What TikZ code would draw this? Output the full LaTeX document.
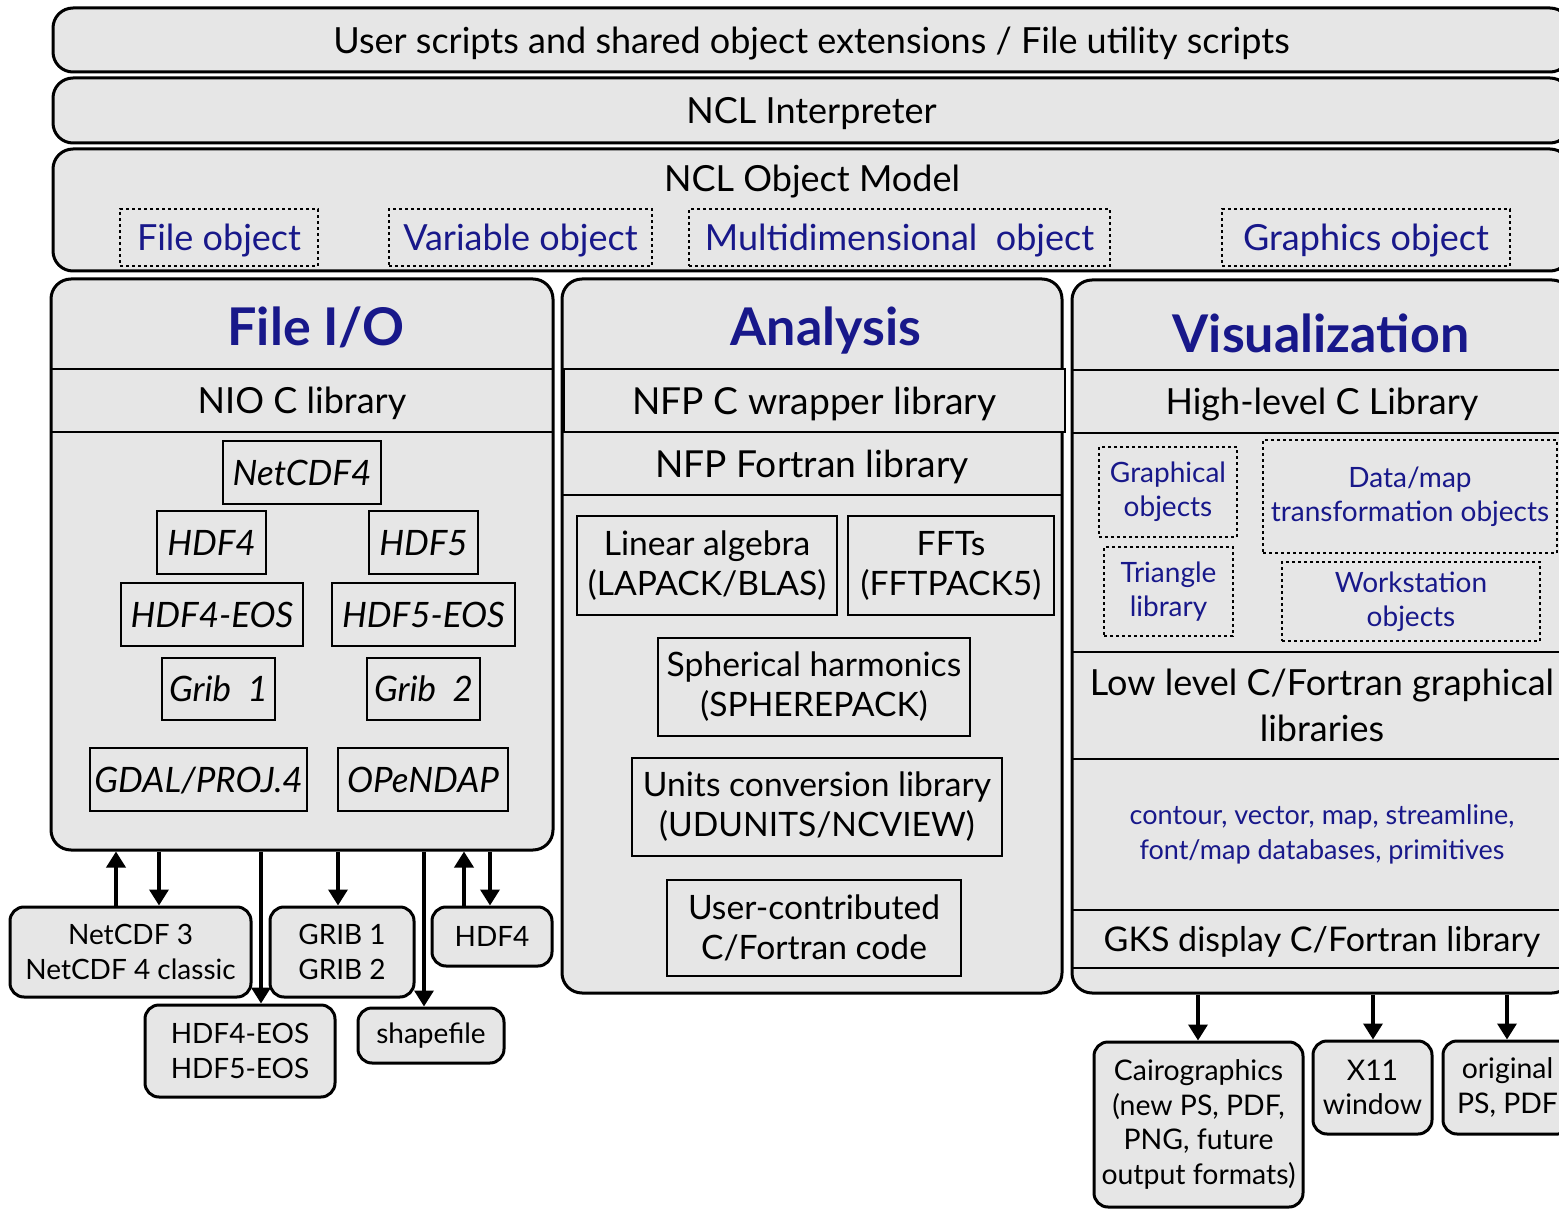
\documentclass[tikz,border=0pt]{standalone}
\usepackage{fontspec}
\setmainfont{Lato}
\usetikzlibrary{arrows.meta,positioning}
\definecolor{boxgray}{RGB}{230,230,230}
\definecolor{navy}{RGB}{24,24,138}
\newcommand{\fsize}[2]{\fontsize{#1}{#2}\selectfont}

\begin{document}
\begin{tikzpicture}[x=0.5pt, y=-0.5pt,
        sz/.style 2 args={minimum width=#1*0.5pt, minimum height=#2*0.5pt},
        bar/.style={draw, line width=1.5pt, fill=boxgray, rounded corners=10pt, inner sep=0pt, text depth=0pt, font=\fsize{18}{22}},
        panel/.style={draw, line width=1.5pt, fill=boxgray, rounded corners=10pt, inner sep=0pt},
        row/.style={draw, line width=0.8pt, inner sep=0pt, align=center, font=\fsize{18}{23}},
        lib/.style={draw, line width=0.8pt, inner sep=0pt, text depth=0pt, font=\fsize{17.5}{21}\itshape},
        pack/.style={draw, line width=0.8pt, inner sep=0pt, align=center, font=\fsize{16.8}{20}},
        obj/.style={draw, line width=1.2pt, dash pattern=on 1.5pt off 1.5pt, inner sep=0pt, align=center, text=navy},
        fmt/.style={draw, line width=1.5pt, fill=boxgray, rounded corners=7pt, inner sep=0pt, align=center, font=\fsize{14}{17.5}},
        arr/.style={-{Triangle[length=8pt,width=9.5pt]}, line width=1.8pt},
        title/.style={text=navy, font=\fsize{26}{32}\bfseries}]
        \useasboundingbox (0,0) rectangle (1559,1209);

        % layers on top
        \node (user) [bar, sz={1517}{64}] at (811.5,40) {User scripts and shared object extensions / File utility scripts};
        \node (interp) [bar, sz={1517}{65}] at (811.5,110.5) {NCL Interpreter};
        \node (model) [bar, sz={1517}{122}] at (811.5,210) {};
        \node (modeltxt) [font=\fsize{18}{22}] at (812,182) {NCL Object Model};
        \node (fileobj) [obj, text depth=0pt, font=\fsize{18}{22}, sz={198}{57}] at (219,237.5) {File object};
        \node (varobj) [obj, text depth=0pt, font=\fsize{18}{22}, sz={263}{57}] at (520.5,237.5) {Variable object};
        \node (mdobj) [obj, text depth=0pt, font=\fsize{18}{22}, sz={421}{57}] at (899.5,237.5) {Multidimensional~~object};
        \node (gobj) [obj, text depth=0pt, font=\fsize{18}{22}, sz={288}{57}] at (1366,237.5) {Graphics object};

        % File I/O
        \node (fileio) [panel, sz={502}{571}] at (302,564.5) {};
        \node (fiotitle) [title] at (316,327) {File I/O};
        \node (nio) [row, text depth=0pt, sz={502}{63}] at (302,400.5) {NIO C library};
        \node (netcdf4) [lib, sz={158}{63}] at (302,472.5) {NetCDF4};
        \node (hdf4) [lib, sz={109}{63}] at (211.5,542.5) {HDF4};
        \node (hdf5) [lib, sz={109}{63}] at (423.5,542.5) {HDF5};
        \node (hdf4eos) [lib, sz={182}{63}] at (212,614.5) {HDF4-EOS};
        \node (hdf5eos) [lib, sz={183}{63}] at (423.5,614.5) {HDF5-EOS};
        \node (grib1) [lib, sz={113}{62}] at (218.5,689) {Grib~~1};
        \node (grib2) [lib, sz={113}{62}] at (423.5,689) {Grib~~2};
        \node (gdal) [lib, sz={217}{63}] at (198.5,779.5) {GDAL/PROJ.4};
        \node (opendap) [lib, sz={170}{63}] at (423,779.5) {OPeNDAP};

        % Analysis
        \node (analysis) [panel, sz={500}{714}] at (812,636) {};
        \node (antitle) [title] at (826,331) {Analysis};
        \node (nfpc) [row, fill=boxgray, text depth=0pt, font=\fsize{18.6}{23}, sz={501}{63}] at (814.5,400.5) {NFP C wrapper library};
        \node (nfpf) [row, text depth=0pt, font=\fsize{18.6}{23}, sz={500}{63}] at (812,463.5) {NFP Fortran library};
        \node (lapack) [pack, sz={260}{99}] at (707,565.5) {Linear algebra\\(LAPACK/BLAS)};
        \node (fft) [pack, sz={206}{99}] at (951,565.5) {FFTs\\(FFTPACK5)};
        \node (sphere) [pack, sz={312}{98}] at (814,687) {Spherical harmonics\\(SPHEREPACK)};
        \node (units) [pack, sz={370}{98}] at (817,807) {Units conversion library\\(UDUNITS/NCVIEW)};
        \node (usercode) [pack, sz={294}{96}] at (814,928) {User-contributed\\C/Fortran code};

        % Visualization
        \node (vis) [panel, sz={500}{713}] at (1322,636.5) {};
        \node (vistitle) [title] at (1321,333) {Visualization};
        \node (hlc) [row, text depth=0pt, sz={500}{63}] at (1322,401.5) {High-level C Library};
        \node (grobj) [obj, font=\fsize{14}{17}, sz={138}{90}] at (1168,492) {Graphical\\objects};
        \node (trobj) [obj, font=\fsize{14}{17}, sz={294}{113}] at (1410,496.5) {Data/map\\transformation objects};
        \node (trilib) [obj, font=\fsize{14}{17}, sz={129}{89}] at (1168.5,591.5) {Triangle\\library};
        \node (wsobj) [obj, font=\fsize{14}{17}, sz={258}{79}] at (1411,601.5) {Workstation\\objects};
        \node (llc) [row, sz={500}{107}] at (1322,705.5) {Low level C/Fortran graphical\\libraries};
        \node (prims) [row, text=navy, font=\fsize{13.5}{17.5}, sz={500}{151}] at (1322,834.5) {contour, vector, map, streamline,\\font/map databases, primitives};
        \node (gks) [row, text depth=0pt, font=\fsize{17}{22}, sz={500}{58}] at (1322,939) {GKS display C/Fortran library};

        % file formats
        \node (nc3) [fmt, sz={241}{90}] at (130.5,952) {NetCDF 3\\NetCDF 4 classic};
        \node (grib) [fmt, sz={144}{90}] at (342,952) {GRIB 1\\GRIB 2};
        \node (hdf4f) [fmt, sz={120}{59}] at (492,936.5) {HDF4};
        \node (eosf) [fmt, sz={190}{92}] at (240,1051) {HDF4-EOS\\HDF5-EOS};
        \node (shp) [fmt, sz={146}{55}] at (431,1035.5) {shapefile};

        % output devices
        \node (cairo) [fmt, font=\fsize{14.2}{17.3}, sz={209}{165}] at (1198.5,1124.5) {Cairographics\\(new PS, PDF,\\PNG, future\\output formats)};
        \node (x11) [fmt, font=\fsize{14.2}{17.3}, sz={119}{93}] at (1372.5,1087.5) {X11\\window};
        \node (ps) [fmt, font=\fsize{14.2}{17.3}, sz={129}{93}] at (1507.5,1087.5) {original\\PS, PDF};

        % arrows
        \coordinate (a1) at (116,0);
        \coordinate (a2) at (159,0);
        \coordinate (a3) at (261,0);
        \coordinate (a4) at (338,0);
        \coordinate (a5) at (424,0);
        \coordinate (a6) at (464,0);
        \coordinate (a7) at (490,0);
        \draw[arr] (nc3.north -| a1) -- (fileio.south -| a1);
        \draw[arr] (fileio.south -| a2) -- (nc3.north -| a2);
        \draw[arr] (fileio.south -| a3) -- (eosf.north -| a3);
        \draw[arr] (fileio.south -| a4) -- (grib.north -| a4);
        \draw[arr] (fileio.south -| a5) -- (shp.north -| a5);
        \draw[arr] (hdf4f.north -| a6) -- (fileio.south -| a6);
        \draw[arr] (fileio.south -| a7) -- (hdf4f.north -| a7);

        \coordinate (b1) at (1198,0);
        \coordinate (b2) at (1373,0);
        \coordinate (b3) at (1507,0);
        \draw[arr] (vis.south -| b1) -- (cairo.north -| b1);
        \draw[arr] (vis.south -| b2) -- (x11.north -| b2);
        \draw[arr] (vis.south -| b3) -- (ps.north -| b3);
\end{tikzpicture}
\end{document}
